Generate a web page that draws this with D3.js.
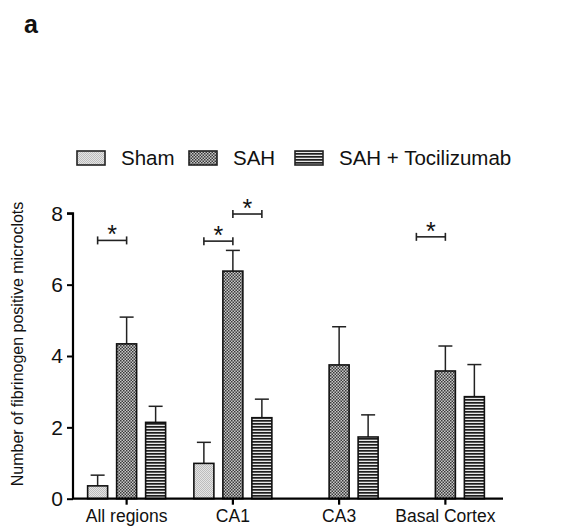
<!DOCTYPE html>
<html>
<head>
<meta charset="utf-8">
<script src="https://cdn.jsdelivr.net/npm/d3@7"></script>
<style>
  body { margin: 0; background: #fff; }
  svg text { font-family: "Liberation Sans", Arial, sans-serif; }
</style>
</head>
<body>
<div id="chart"></div>
<script>
// ---- data
var regions = ["All regions", "CA1", "CA3", "Basal Cortex"];
var groups  = ["Sham", "SAH", "SAH + Tocilizumab"];
var shamMean = [0.36, 0.99, 0, 0];
var shamErr  = [0.30, 0.59, 0, 0];
var sahMean  = [4.34, 6.38, 3.75, 3.58];
var sahErr   = [0.75, 0.58, 1.07, 0.70];
var tocMean  = [2.14, 2.27, 1.73, 2.86];
var tocErr   = [0.45, 0.52, 0.62, 0.90];
var yTicks   = [0, 2, 4, 6, 8];
// significance brackets: region, from group, to group, y level
var sigRegion = ["All regions", "CA1", "CA1", "Basal Cortex"];
var sigFrom   = [0, 0, 1, 0];
var sigTo     = [1, 1, 2, 1];
var sigLevel  = [7.24, 7.22, 7.98, 7.34];

var W = 567, H = 528;
var svg = d3.select("#chart").append("svg").attr("width", W).attr("height", H);

//---------------- patterns
var defs = svg.append("defs");
var pSham = defs.append("pattern").attr("id", "pSham").attr("patternUnits", "userSpaceOnUse")
  .attr("width", 2).attr("height", 2);
pSham.append("rect").attr("width", 2).attr("height", 2).attr("fill", "#e4e4e4");
pSham.append("rect").attr("width", 1).attr("height", 1).attr("fill", "#bdbdbd");
pSham.append("rect").attr("x", 1).attr("y", 1).attr("width", 1).attr("height", 1).attr("fill", "#bdbdbd");

var pSah = defs.append("pattern").attr("id", "pSah").attr("patternUnits", "userSpaceOnUse")
  .attr("width", 3).attr("height", 3);
pSah.append("rect").attr("width", 3).attr("height", 3).attr("fill", "#c8c8c8");
pSah.append("rect").attr("width", 1.5).attr("height", 1.5).attr("fill", "#3a3a3a");
pSah.append("rect").attr("x", 1.5).attr("y", 1.5).attr("width", 1.5).attr("height", 1.5).attr("fill", "#3a3a3a");

var pToc = defs.append("pattern").attr("id", "pToc").attr("patternUnits", "userSpaceOnUse")
  .attr("width", 3).attr("height", 3);
pToc.append("rect").attr("width", 3).attr("height", 3).attr("fill", "#e8e8e8");
pToc.append("rect").attr("width", 3).attr("height", 1.7).attr("fill", "#1e1e1e");

var fills = ["url(#pSham)", "url(#pSah)", "url(#pToc)"];

//---------------- scales
var x0 = d3.scaleBand().domain(regions).range([73.5, 498.5]);
var x1 = d3.scaleBand().domain(groups).range([x0.bandwidth()/2 - 39, x0.bandwidth()/2 + 39]).paddingInner(0.31);
var y = d3.scaleLinear().domain([0, 8]).range([498.7, 213.3]);

var means = [shamMean, sahMean, tocMean];
var errs  = [shamErr, sahErr, tocErr];

var g = svg.append("g");

//---------------- bars + error bars
groups.forEach(function (grp, gi) {
  regions.forEach(function (reg, ri) {
    var m = means[gi][ri], e = errs[gi][ri];
    if (m <= 0) return;
    var bx = x0(reg) + x1(grp), bw = x1.bandwidth(), cx = bx + bw/2;
    // error bar (upper only)
    g.append("line").attr("x1", cx).attr("x2", cx).attr("y1", y(m)).attr("y2", y(m + e))
      .attr("stroke", "#222").attr("stroke-width", 1.5);
    g.append("line").attr("x1", cx - 7).attr("x2", cx + 7).attr("y1", y(m + e)).attr("y2", y(m + e))
      .attr("stroke", "#222").attr("stroke-width", 1.5);
    g.append("rect").attr("x", bx).attr("y", y(m)).attr("width", bw).attr("height", y(0) - y(m))
      .attr("fill", fills[gi]).attr("stroke", "#111").attr("stroke-width", 1.6);
  });
});

//---------------- axes
var yAxis = svg.append("g").attr("transform", "translate(73,0)")
  .call(d3.axisLeft(y).tickValues(yTicks).tickSize(6).tickPadding(4));
yAxis.select(".domain").attr("stroke-width", 2.2).attr("d", "M-6," + y(8) + "H0V" + y(0));
yAxis.selectAll(".tick line").attr("stroke-width", 2);
yAxis.selectAll(".tick text").attr("font-size", 21).attr("fill", "#111")
  .attr("font-family", "Liberation Sans, Arial, sans-serif");

var xAxis = svg.append("g").attr("transform", "translate(0," + y(0) + ")")
  .call(d3.axisBottom(x0).tickSize(6).tickPadding(5));
xAxis.select(".domain").attr("stroke-width", 2.2).attr("d", "M72,0H503");
xAxis.selectAll(".tick line").attr("stroke-width", 2.2);
xAxis.selectAll(".tick text").attr("font-size", 17.5).attr("fill", "#111")
  .attr("font-family", "Liberation Sans, Arial, sans-serif");

svg.append("text").attr("transform", "translate(23," + 344 + ") rotate(-90)")
  .attr("text-anchor", "middle").attr("font-size", 16).attr("fill", "#111")
  .text("Number of fibrinogen positive microclots");

//---------------- significance
sigRegion.forEach(function (reg, i) {
  var xa = x0(reg) + x1(groups[sigFrom[i]]) + x1.bandwidth()/2;
  var xb = x0(reg) + x1(groups[sigTo[i]]) + x1.bandwidth()/2;
  var yy = y(sigLevel[i]);
  var s = svg.append("g").attr("stroke", "#222").attr("stroke-width", 1.6);
  s.append("line").attr("x1", xa).attr("x2", xb).attr("y1", yy).attr("y2", yy);
  s.append("line").attr("x1", xa).attr("x2", xa).attr("y1", yy - 4).attr("y2", yy + 4);
  s.append("line").attr("x1", xb).attr("x2", xb).attr("y1", yy - 4).attr("y2", yy + 4);
  svg.append("text").attr("x", (xa + xb)/2).attr("y", yy + 3).attr("text-anchor", "middle")
    .attr("font-size", 25).attr("fill", "#111").text("*");
});

//---------------- legend
var legX = [77, 189, 295];
groups.forEach(function (grp, i) {
  svg.append("rect").attr("x", legX[i]).attr("y", 151).attr("width", 28).attr("height", 14)
    .attr("fill", fills[i]).attr("stroke", "#222").attr("stroke-width", 1.6);
  svg.append("text").attr("x", legX[i] + 44).attr("y", 165).attr("font-size", 20.5).attr("fill", "#111")
    .text(grp);
});

svg.append("text").attr("x", 24).attr("y", 33).attr("font-size", 25).attr("font-weight", "bold")
  .attr("fill", "#111").text("a");
</script>
</body>
</html>
